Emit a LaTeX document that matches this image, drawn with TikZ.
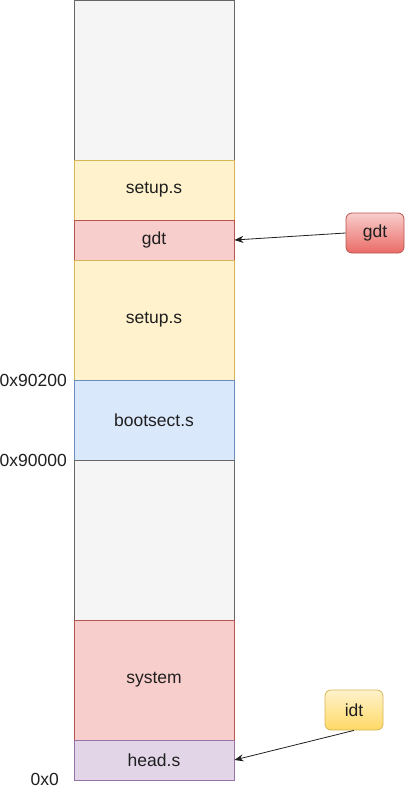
\documentclass[tikz,border=0pt]{standalone}
\usepackage{fontspec}
\setmainfont{Liberation Sans}
\usetikzlibrary{arrows.meta,positioning}
\definecolor{grayF}{HTML}{F5F5F5}\definecolor{grayD}{HTML}{666666}
\definecolor{yelF}{HTML}{FFF2CC}\definecolor{yelD}{HTML}{D6B656}
\definecolor{redF}{HTML}{F8CECC}\definecolor{redD}{HTML}{B85450}
\definecolor{bluF}{HTML}{DAE8FC}\definecolor{bluD}{HTML}{6C8EBF}
\definecolor{purF}{HTML}{E1D5E7}\definecolor{purD}{HTML}{9673A6}
\definecolor{redG}{HTML}{EA6B66}\definecolor{yelG}{HTML}{FFD966}
\tikzset{
  txt/.style={font=\fontsize{17.5pt}{20pt}\selectfont, text=black!88},
  blk/.style={draw=#1D, fill=#1F, line width=0.8pt, minimum width=160pt, inner sep=0pt, txt},
  tag/.style={draw=#1D, rounded corners=6pt, line width=0.8pt, minimum width=58pt, minimum height=40pt, inner sep=0pt, txt},
  addr/.style={anchor=east, inner sep=0pt, txt},
  conn/.style={-{Stealth[length=9pt,width=7pt]}, line width=0.8pt, black!88}
}
\begin{document}
\begin{tikzpicture}[x=1pt,y=-1pt]
\useasboundingbox (0,0) rectangle (405,792);
\node[blk=gray, minimum height=160pt] (top) at (154,80) {};
\node[blk=yel, minimum height=60pt] (setupA) at (154,190) {setup.s};
\node[blk=red, minimum height=40pt] (gdtmem) at (154,240) {gdt};
\node[blk=yel, minimum height=120pt] (setupB) at (154,320) {setup.s};
\node[blk=blu, minimum height=80pt] (boot) at (154,420) {bootsect.s};
\node[blk=gray, minimum height=160pt] (free) at (154,540) {};
\node[blk=red, minimum height=120pt] (sys) at (154,680) {system};
\node[blk=pur, minimum height=40pt] (head) at (154,760) {head.s};
\node[tag=red, top color=redF, bottom color=redG] (gdt) at (375,233) {gdt};
\node[tag=yel, top color=yelF, bottom color=yelG] (idt) at (354,710) {idt};
\node[addr] (a1) at (67,380) {0x90200};
\node[addr] (a2) at (67,460) {0x90000};
\node[addr] (a3) at (59,779) {0x0};
\draw[conn] (gdt.west) -- (gdtmem.east);
\draw[conn] (idt.south) -- (head.east);
\end{tikzpicture}
\end{document}
